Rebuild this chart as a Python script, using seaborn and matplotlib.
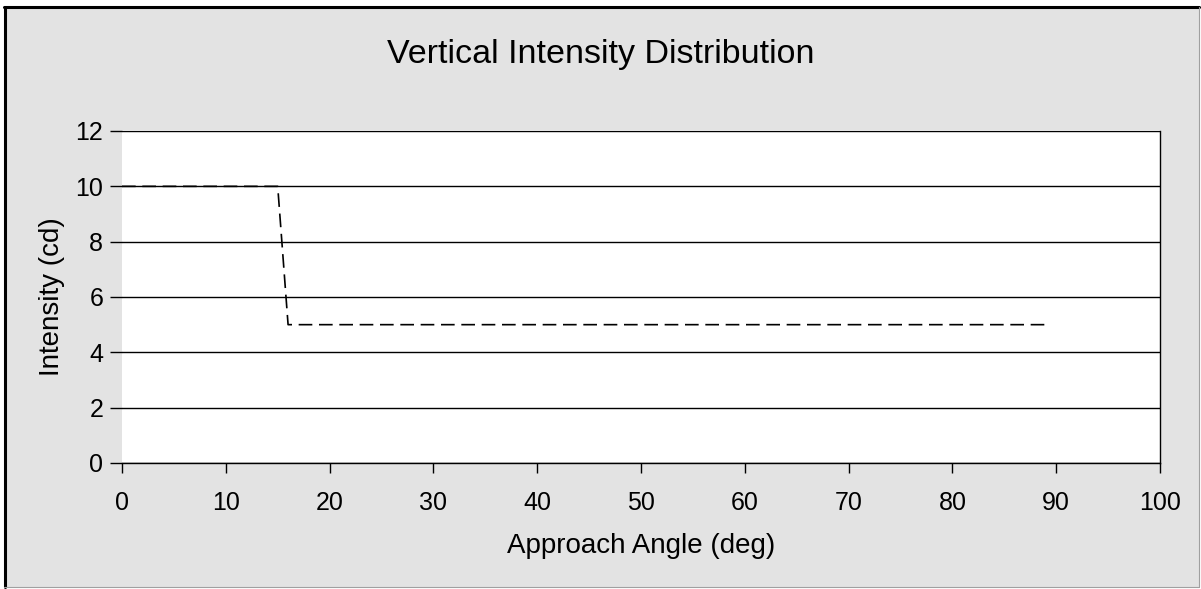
import numpy as np
import pandas as pd
import matplotlib
matplotlib.use("Agg")
import matplotlib.pyplot as plt
import seaborn as sns
from matplotlib.patches import Rectangle
from matplotlib.lines import Line2D

# data
angle_deg = [0, 15, 16, 89]
intensity_cd = [10, 10, 5, 5]
x_ticks = [0, 10, 20, 30, 40, 50, 60, 70, 80, 90, 100]
y_ticks = [0, 2, 4, 6, 8, 10, 12]

sns.set_style("white")
plt.rcParams['font.family'] = ['Liberation Sans', 'DejaVu Sans']
plt.rcParams['text.color'] = 'black'
plt.rcParams['axes.labelcolor'] = 'black'
plt.rcParams['xtick.color'] = 'black'
plt.rcParams['ytick.color'] = 'black'

W, H = 1201, 589
fig = plt.figure(figsize=(W / 100, H / 100), dpi=100, facecolor="white")

# gray panel with border
fig.add_artist(Rectangle((4 / W, 2 / H), 1195 / W, 580 / H, transform=fig.transFigure,
                         facecolor="#e3e3e3", edgecolor="none", zorder=0))
fig.add_artist(Line2D([4 / W, 1199 / W], [1 - 7 / H, 1 - 7 / H], transform=fig.transFigure,
                      color="black", lw=2.2))
fig.add_artist(Line2D([5 / W, 5 / W], [2 / H, 1 - 7 / H], transform=fig.transFigure,
                      color="black", lw=2.2))
fig.add_artist(Line2D([1199 / W, 1199 / W], [2 / H, 1 - 7 / H], transform=fig.transFigure,
                      color="#a0a0a0", lw=0.8))
fig.add_artist(Line2D([4 / W, 1199 / W], [2 / H, 2 / H], transform=fig.transFigure,
                      color="#a0a0a0", lw=0.8))

left, right, top, bottom = 122, 1160, 131, 463
ax = fig.add_axes([left / W, 1 - bottom / H, (right - left) / W, (bottom - top) / H])
ax.set_facecolor("white")

df = pd.DataFrame({"angle": angle_deg, "intensity": intensity_cd})
sns.lineplot(data=df, x="angle", y="intensity", ax=ax, color="black", lw=1.2,
             dashes=False, linestyle=(0, (8.2, 4.0)), zorder=3)

ax.set_xlim(0, 100)
ax.set_ylim(0, 12)
ax.set_xticks(x_ticks)
ax.set_yticks(y_ticks)
ax.yaxis.grid(True, color="black", lw=1.0)
ax.set_axisbelow(True)

for s in ["left", "top"]:
    ax.spines[s].set_visible(False)
for s in ["right", "bottom"]:
    ax.spines[s].set_visible(True)
    ax.spines[s].set_color("black")
    ax.spines[s].set_linewidth(1.0)

ax.tick_params(axis="x", direction="out", length=7.2, width=1.0,
               labelsize=18, pad=13, bottom=True)
ax.tick_params(axis="y", direction="out", length=8.5, width=1.0,
               labelsize=18, pad=5, left=True)

ax.set_xlabel("Approach Angle (deg)", fontsize=20, labelpad=13)
ax.set_ylabel("Intensity (cd)", fontsize=20, labelpad=7.5)
# title is centred on the whole chart, not the plot area
fig.text(601 / W, 1 - 63 / H, "Vertical Intensity Distribution", fontsize=24.5,
         ha="center", va="baseline")

fig.savefig("out.png", dpi=100, facecolor="white")
